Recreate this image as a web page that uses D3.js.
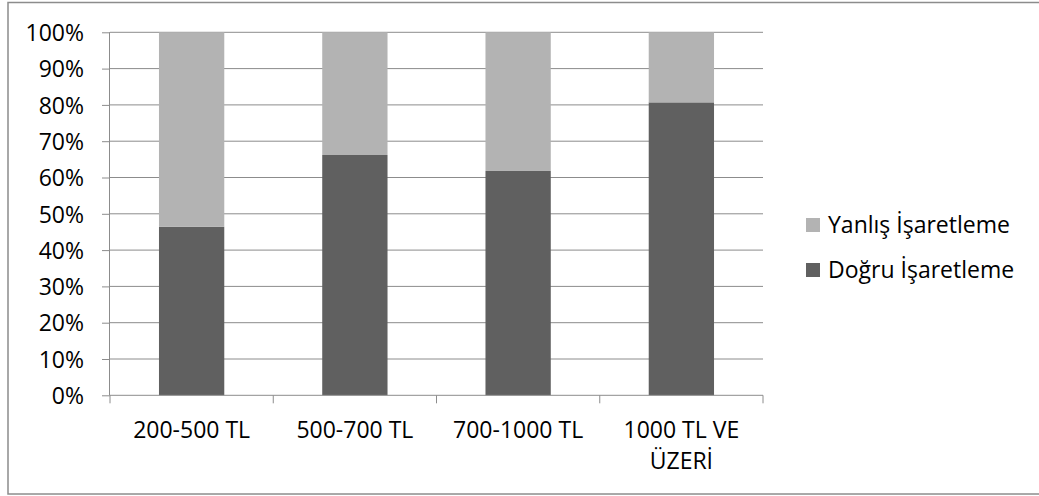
<!DOCTYPE html>
<html><head><meta charset="utf-8">
<script src="https://cdn.jsdelivr.net/npm/d3@7"></script>
<style>body{margin:0;background:#fff}svg{display:block}text{font-family:"Open Sans",sans-serif;fill:#000}</style>
</head><body><svg id="c" width="1039" height="496"></svg>
<script>
const categories = ["200-500 TL", "500-700 TL", "700-1000 TL", "1000 TL VE\nÜZERİ"];
const seriesNames = ["Doğru İşaretleme", "Yanlış İşaretleme"];
const dogru = [46.4, 66.2, 61.8, 80.7];
const yanlis = [53.6, 33.8, 38.2, 19.3];
const yTicks = [0,10,20,30,40,50,60,70,80,90,100];
const colors = ["#606060", "#b3b3b3"];
const FS = 23;

const svg = d3.select("#c");
svg.append("rect").attr("x",8).attr("y",2.5).attr("width",1100).attr("height",491.5)
  .attr("fill","none").attr("stroke","#8c8c8c").attr("stroke-width",1.5);

const L=110, R=763, T=32.3, B=395.3;
const x = d3.scaleBand().domain(categories).range([L,R]).paddingInner(0.6).paddingOuter(0.3);
const xb = d3.scaleBand().domain(categories).range([L,R]);
const y = d3.scaleLinear().domain([0,100]).range([B,T]);

svg.append("g").selectAll("line").data(yTicks.filter(d=>d>0)).join("line")
  .attr("x1",L).attr("x2",R).attr("y1",d=>y(d)).attr("y2",d=>y(d))
  .attr("stroke","#8c8c8c").attr("stroke-width",1);

const table = categories.map((c,i)=>({cat:c, [seriesNames[0]]:dogru[i], [seriesNames[1]]:yanlis[i]}));
const stack = d3.stack().keys(seriesNames)(table);
svg.append("g").selectAll("g").data(stack).join("g").attr("fill",(d,i)=>colors[i])
  .selectAll("rect").data(d=>d).join("rect")
  .attr("x",d=>x(d.data.cat)).attr("width",x.bandwidth())
  .attr("y",d=>y(d[1])).attr("height",d=>y(d[0])-y(d[1]));

const ya = svg.append("g").attr("transform",`translate(${L},0)`)
  .call(d3.axisLeft(y).tickValues(yTicks).tickSize(8).tickPadding(18).tickFormat(d=>d+"%"));
ya.attr("font-size",null).attr("font-family",null);
ya.select(".domain").attr("stroke","#8c8c8c").attr("d",`M-0.5,${T}V${B}`);
ya.selectAll(".tick line").attr("stroke","#8c8c8c");
ya.selectAll("text").attr("font-size",FS).attr("fill","#000").attr("dy","0.36em");

const xa = svg.append("g").attr("transform",`translate(0,${B})`);
xa.append("line").attr("x1",L).attr("x2",R).attr("y1",0).attr("y2",0).attr("stroke","#8c8c8c");
const bounds = categories.map(c=>xb(c)).concat([R]);
xa.selectAll("line.t").data(bounds).join("line").attr("class","t")
  .attr("x1",d=>d).attr("x2",d=>d).attr("y1",0).attr("y2",8).attr("stroke","#8c8c8c");
categories.forEach(c=>{
  const lines=c.split("\n");
  const t=xa.append("text").attr("text-anchor","middle").attr("font-size",FS)
    .attr("x",xb(c)+xb.bandwidth()/2).attr("y",43);
  lines.forEach((ln,i)=>t.append("tspan").attr("x",xb(c)+xb.bandwidth()/2).attr("dy",i?31:0).text(ln));
});

const leg = svg.append("g");
const legItems = [[seriesNames[1],colors[1]],[seriesNames[0],colors[0]]];
legItems.forEach((d,i)=>{
  const cy = 225 + i*45;
  leg.append("rect").attr("x",806).attr("y",cy-7).attr("width",14).attr("height",14).attr("fill",d[1]);
  leg.append("text").attr("x",828).attr("y",cy).attr("dy","0.36em").attr("font-size",FS).text(d[0]);
});
</script></body></html>
